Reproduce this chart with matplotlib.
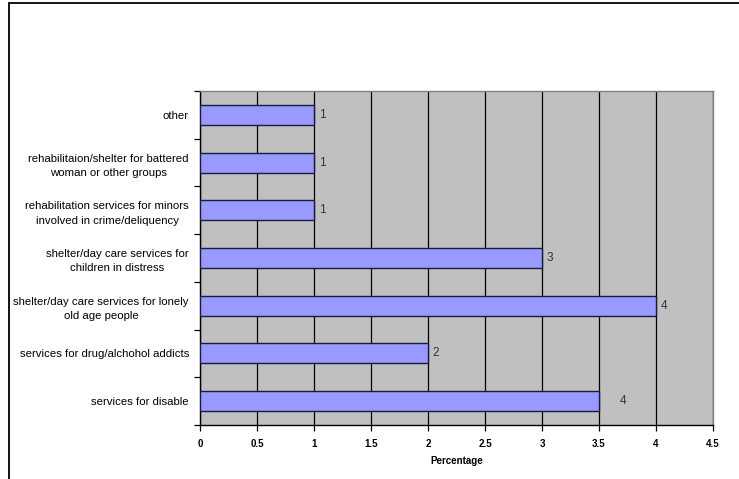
import matplotlib
matplotlib.use("Agg")
import matplotlib.pyplot as plt
from matplotlib.patches import Rectangle
import numpy as np

plt.rcParams['font.family'] = ['Liberation Sans', 'DejaVu Sans']

# bottom to top, as drawn
categories = [
    "services for disable",
    "services for drug/alchohol addicts",
    "shelter/day care services for lonely\nold age people",
    "shelter/day care services for\nchildren in distress",
    "rehabilitation services for minors\ninvolved in crime/deliquency",
    "rehabilitaion/shelter for battered\nwoman or other groups",
    "other",
]
values = [3.5, 2, 4, 3, 1, 1, 1]
x_ticks = [0, 0.5, 1, 1.5, 2, 2.5, 3, 3.5, 4, 4.5]

fig = plt.figure(figsize=(7.39, 4.79), dpi=100)
ax = fig.add_axes([200 / 739, 1 - 425 / 479, 513 / 739, 334 / 479])

# outer chart border
fig.add_artist(Rectangle((8.5 / 739, -0.1), 1.2, 1.1 - 3.5 / 479,
                         transform=fig.transFigure, fill=False,
                         edgecolor='black', linewidth=1.3))

ax.set_facecolor('#C0C0C0')
y = np.arange(len(categories))
ax.barh(y, values, height=0.42, color='#9999FF', edgecolor='#1a1a40',
        linewidth=1.0, zorder=3)

for yi, v in zip(y, values):
    label = f"{v:.0f}"
    off = 3.5 if float(label) == v else 15
    ax.annotate(label, (v, yi), xytext=(off, 0), textcoords='offset points',
                va='center', ha='left', fontsize=8.5, color='#333333')

ax.set_xlim(0, 4.5)
ax.set_ylim(-0.5, len(categories) - 0.5)
ax.set_xticks(x_ticks)
ax.set_xticklabels([f"{t:g}" for t in x_ticks], fontsize=7, fontweight='bold')
ax.grid(axis='x', color='black', linewidth=0.9, zorder=1)
ax.set_axisbelow(True)

ax.set_yticks(y)
ax.set_yticklabels(categories, fontsize=8.2, linespacing=1.55,
                   multialignment='center')
ax.set_yticks(np.arange(-0.5, len(categories)), minor=True)
ax.tick_params(axis='y', which='major', length=0, pad=8)
ax.tick_params(axis='y', which='minor', length=4, width=0.9, direction='out')
ax.tick_params(axis='x', length=4, width=0.9, direction='out', pad=6)

ax.set_xlabel("Percentage", fontsize=7, fontweight='bold', labelpad=5)

for s in ['top', 'right']:
    ax.spines[s].set_color('#808080')
    ax.spines[s].set_linewidth(1.0)
for s in ['left', 'bottom']:
    ax.spines[s].set_color('black')
    ax.spines[s].set_linewidth(1.0)

fig.savefig("out.png", dpi=100)
